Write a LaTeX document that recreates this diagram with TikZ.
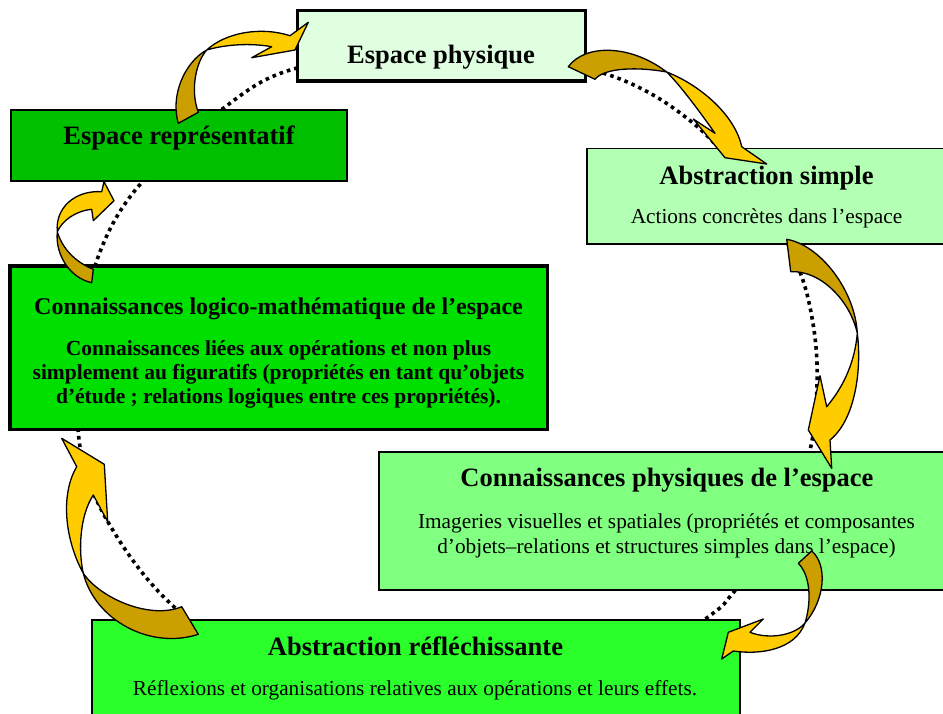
\documentclass[tikz,border=0pt]{standalone}
\usepackage{fontspec}
\setmainfont{Liberation Serif}
\definecolor{cPhys}{HTML}{E0FFE0}
\definecolor{cAbs}{HTML}{B3FFB3}
\definecolor{cRep}{HTML}{00C000}
\definecolor{cLog}{HTML}{00E000}
\definecolor{cCon}{HTML}{80FF80}
\definecolor{cRef}{HTML}{2BFF2B}
\definecolor{cGold}{HTML}{CC9F00}
\definecolor{cYel}{HTML}{FFCC00}
\begin{document}
\begin{tikzpicture}[x=1pt,y=-1pt,
  box/.style={draw=black, rectangle, inner sep=0pt, outer sep=0pt, anchor=north west},
  ttl/.style={font=\bfseries\fontsize{26.5}{30}\selectfont, anchor=base, inner sep=0pt},
  bdy/.style={font=\fontsize{21.3}{25}\selectfont, anchor=base, inner sep=0pt},
  lbd/.style={font=\bfseries\fontsize{21.5}{25}\selectfont, anchor=base, inner sep=0pt},
  dotline/.style={line width=3.6pt, dash pattern=on 3.6pt off 4pt},
  arrline/.style={draw=black, line width=1.3pt, line join=round}]
\useasboundingbox (0,0) rectangle (943,713);
\clip (0,0) rectangle (943,713);

% dotted cycle behind the boxes
\draw[dotline] plot[smooth cycle, tension=0.55] coordinates {
  (446,46) (603,73) (693,123) (765,205) (800,272) (814,330) (817,385)
  (810,450) (780,535) (733,593) (708,617) (600,690) (446,720) (300,700)
  (172,605) (108,522) (80,447) (80,350) (97,260) (137,188) (225,107) (297,68)};

% boxes
\node[box, fill=cPhys, line width=3.5pt, minimum width=288pt, minimum height=70.5pt] (phys) at (297.5,10.5) {};
\node[box, fill=cRep, line width=2pt, minimum width=336pt, minimum height=71pt] (rep) at (11,109.5) {};
\node[box, fill=cAbs, line width=1.5pt, minimum width=370pt, minimum height=95.5pt] (abs) at (587,148.5) {};
\node[box, fill=cLog, line width=3.5pt, minimum width=537.5pt, minimum height=163.5pt] (log) at (10,266) {};
\node[box, fill=cCon, line width=2pt, minimum width=580pt, minimum height=138pt] (con) at (379,451.5) {};
\node[box, fill=cRef, line width=2pt, minimum width=648pt, minimum height=110pt] (ref) at (91.5,619.5) {};

% texts
\node[ttl] (tphys) at (441,63) {Espace physique};
\node[ttl] (trep) at (179,144) {Espace représentatif};
\node[ttl] (tabs) at (766.5,184) {Abstraction simple};
\node[bdy] (babs) at (766.5,223) {Actions concrètes dans l’espace};
\node[ttl, font=\bfseries\fontsize{24}{28}\selectfont] (tlog) at (278.5,314) {Connaissances logico-mathématique de l’espace};
\node[lbd] (blogA) at (278.5,355) {Connaissances liées aux opérations et non plus};
\node[lbd] (blogB) at (278.5,379) {simplement au figuratifs (propriétés en tant qu’objets};
\node[lbd] (blogC) at (278.5,403) {d’étude ; relations logiques entre ces propriétés).};
\node[ttl] (tcon) at (667,486.5) {Connaissances physiques de l’espace};
\node[bdy] (bconA) at (666.5,528) {Imageries visuelles et spatiales (propriétés et composantes};
\node[bdy] (bconB) at (666.5,553) {d’objets–relations et structures simples dans l’espace)};
\node[ttl] (tref) at (415.5,655) {Abstraction réfléchissante};
\node[bdy] (bref) at (415,695) {Réflexions et organisations relatives aux opérations et leurs effets.};

% A1: representatif -> physique
\fill[cGold] (178.3,123.3) .. controls (170,95) and (185,62) .. (206.7,50) .. controls (196,62) and (190,90) .. (198.3,112.3) -- cycle;
\fill[cYel] (206.7,50) .. controls (225,33) and (260,26) .. (290,35.7) -- (308.3,22.3) -- (295,50) -- (251.7,57.7) -- (271.7,46.7) .. controls (245,42) and (220,46) .. (206.7,50) -- cycle;
\draw[arrline] (178.3,123.3) .. controls (170,95) and (185,62) .. (206.7,50) .. controls (225,33) and (260,26) .. (290,35.7) -- (308.3,22.3) -- (295,50) -- (251.7,57.7) -- (271.7,46.7) .. controls (245,42) and (220,46) .. (206.7,50) .. controls (196,62) and (190,90) .. (198.3,112.3) -- cycle;

% A2: physique -> abstraction simple
\fill[cGold] (568.3,66.7) .. controls (585,44) and (630,44) .. (666.7,72) .. controls (640,67) and (605,67) .. (595,79.3) -- cycle;
\fill[cYel] (666.7,72) .. controls (700,85) and (735,115) .. (741.7,146.7) -- (766.7,164) -- (725,157.7) -- (693.3,119) -- (715,133.3) .. controls (700,112) and (680,85) .. (666.7,72) -- cycle;
\draw[arrline] (568.3,66.7) .. controls (585,44) and (630,44) .. (666.7,72) .. controls (700,85) and (735,115) .. (741.7,146.7) -- (766.7,164) -- (725,157.7) -- (693.3,119) -- (715,133.3) .. controls (700,112) and (680,85) .. (666.7,72) .. controls (640,67) and (605,67) .. (595,79.3) -- cycle;

% A3: abstraction simple -> connaissances physiques
\fill[cGold] (786.7,239.3) .. controls (820,245) and (855,290) .. (857.3,333.3) .. controls (850,300) and (820,270) .. (790.7,271.7) -- cycle;
\fill[cYel] (857.3,333.3) .. controls (862,370) and (855,420) .. (830,440) -- (831.7,468.3) -- (808.3,430) -- (820,375.7) -- (826.7,406.7) .. controls (845,385) and (855,360) .. (857.3,333.3) -- cycle;
\draw[arrline] (786.7,239.3) .. controls (820,245) and (855,290) .. (857.3,333.3) .. controls (862,370) and (855,420) .. (830,440) -- (831.7,468.3) -- (808.3,430) -- (820,375.7) -- (826.7,406.7) .. controls (845,385) and (855,360) .. (857.3,333.3) .. controls (850,300) and (820,270) .. (790.7,271.7) -- cycle;

% A4: connaissances physiques -> abstraction reflechissante
\fill[cGold] (811.7,551) .. controls (828,565) and (825,600) .. (805,623) .. controls (812,600) and (810,575) .. (798.3,563.3) -- cycle;
\fill[cYel] (805,623) .. controls (795,650) and (760,655) .. (733.3,651) -- (721.7,659) -- (728.3,632.3) -- (763.3,619) -- (750,632.3) .. controls (770,640) and (795,635) .. (805,623) -- cycle;
\draw[arrline] (811.7,551) .. controls (828,565) and (825,600) .. (805,623) .. controls (795,650) and (760,655) .. (733.3,651) -- (721.7,659) -- (728.3,632.3) -- (763.3,619) -- (750,632.3) .. controls (770,640) and (795,635) .. (805,623) .. controls (812,600) and (810,575) .. (798.3,563.3) -- cycle;

% A5: abstraction reflechissante -> logico-mathematique
\fill[cGold] (198.3,634.3) .. controls (150,650) and (95,620) .. (83.3,573.3) .. controls (100,598) and (150,620) .. (181.7,606.7) -- cycle;
\fill[cYel] (83.3,573.3) .. controls (65,540) and (60,495) .. (76.7,466.7) -- (61.7,438.3) -- (104.3,464.3) -- (107.7,521.7) -- (93.3,495) .. controls (80,515) and (78,550) .. (83.3,573.3) -- cycle;
\draw[arrline] (198.3,634.3) .. controls (150,650) and (95,620) .. (83.3,573.3) .. controls (65,540) and (60,495) .. (76.7,466.7) -- (61.7,438.3) -- (104.3,464.3) -- (107.7,521.7) -- (93.3,495) .. controls (80,515) and (78,550) .. (83.3,573.3) .. controls (100,598) and (150,620) .. (181.7,606.7) -- cycle;

% A6: logico-mathematique -> representatif
\fill[cGold] (93.3,269.3) .. controls (75,262) and (62,248) .. (57.3,231.7) .. controls (55,255) and (70,278) .. (91.7,282.7) -- cycle;
\fill[cYel] (57.3,231.7) .. controls (55,208) and (75,190) .. (101.7,191.7) -- (104,181.7) -- (114,200.7) -- (93.3,220.7) -- (91.7,209.3) .. controls (75,211) and (62,221) .. (57.3,231.7) -- cycle;
\draw[arrline] (93.3,269.3) .. controls (75,262) and (62,248) .. (57.3,231.7) .. controls (55,208) and (75,190) .. (101.7,191.7) -- (104,181.7) -- (114,200.7) -- (93.3,220.7) -- (91.7,209.3) .. controls (75,211) and (62,221) .. (57.3,231.7) .. controls (55,255) and (70,278) .. (91.7,282.7) -- cycle;
\end{tikzpicture}
\end{document}
